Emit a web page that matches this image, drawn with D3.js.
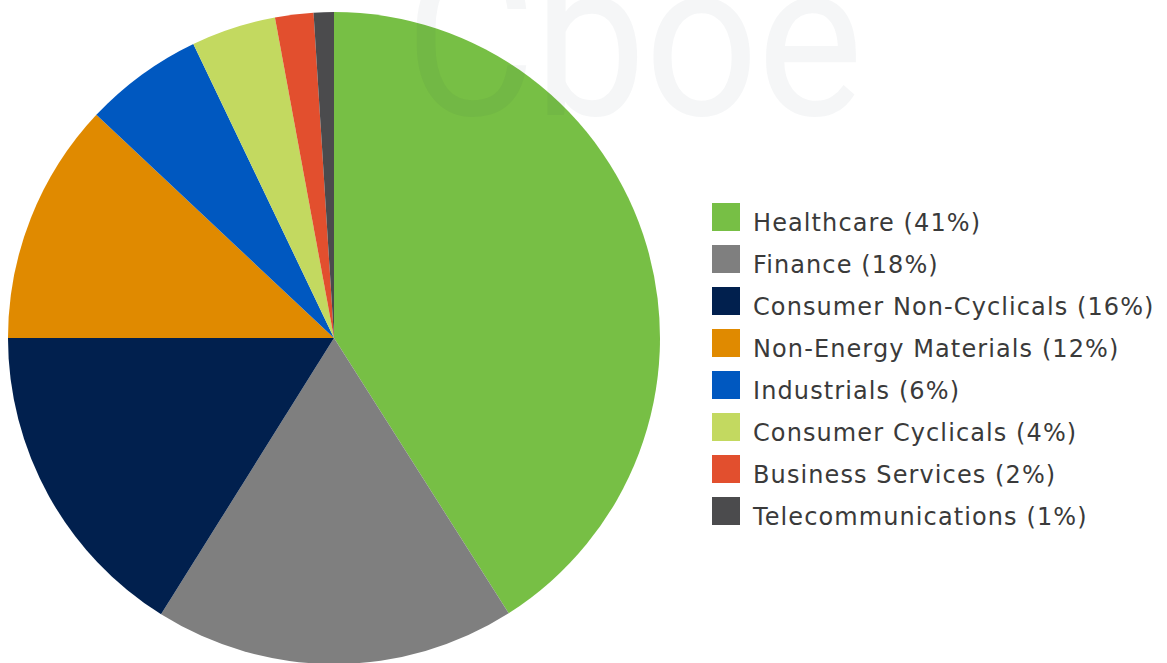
<!DOCTYPE html>
<meta charset="utf-8">
<script src="https://cdn.jsdelivr.net/npm/d3@7"></script>
<style>
  body { margin: 0; background: #fff; }
</style>
<div id="chart"></div>
<script>

// sector weights
var sectors = ["Healthcare", "Finance", "Consumer Non-Cyclicals", "Non-Energy Materials",
               "Industrials", "Consumer Cyclicals", "Business Services", "Telecommunications"];
var weights = [41.0, 17.9, 16.1, 12.0, 5.9, 4.2, 1.9, 1.0];
var colors  = ["#77bf45", "#7f7f7f", "#01204e", "#e08a00",
               "#0058c0", "#c3d960", "#e24f2e", "#4b4b4d"];

var width = 1167, height = 663;
var cx = 334, cy = 338, radius = 326;

var svg = d3.select("#chart")
  .append("svg")
    .attr("width", width)
    .attr("height", height);

// pie
var pie = d3.pie().sort(null).value(function(d) { return d; });
var arc = d3.arc().innerRadius(0).outerRadius(radius);

var color = d3.scaleOrdinal().domain(sectors).range(colors);

svg.append("g")
    .attr("transform", "translate(" + cx + "," + cy + ")")
  .selectAll("path")
  .data(pie(weights))
  .enter()
  .append("path")
    .attr("d", arc)
    .style("fill", function(d, i) { return color(sectors[i]); });

// faint watermark on top of everything
svg.append("text")
    .attr("x", 405)
    .attr("y", 115)
    .attr("transform", "translate(405,115) scale(0.91,1) translate(-405,-115)")
    .style("font-family", "Roboto")
    .style("font-size", "220px")
    .style("letter-spacing", "-1.8px")
    .style("fill", "#1a2a40")
    .style("fill-opacity", 0.045)
    .text("Cboe");

// legend
var legend = svg.append("g")
    .attr("transform", "translate(712,203)");

var rows = legend.selectAll("g")
  .data(sectors)
  .enter()
  .append("g")
    .attr("transform", function(d, i) { return "translate(0," + (i * 42) + ")"; });

rows.append("rect")
    .attr("width", 28)
    .attr("height", 28)
    .style("fill", function(d) { return color(d); });

rows.append("text")
    .attr("x", 41)
    .attr("y", 28)
    .style("font-family", "DejaVu Sans")
    .style("font-size", "24px")
    .style("letter-spacing", "1.1px")
    .style("fill", "#3a3a3a")
    .text(function(d, i) { return d + " (" + Math.round(weights[i]) + "%)"; });

</script>
